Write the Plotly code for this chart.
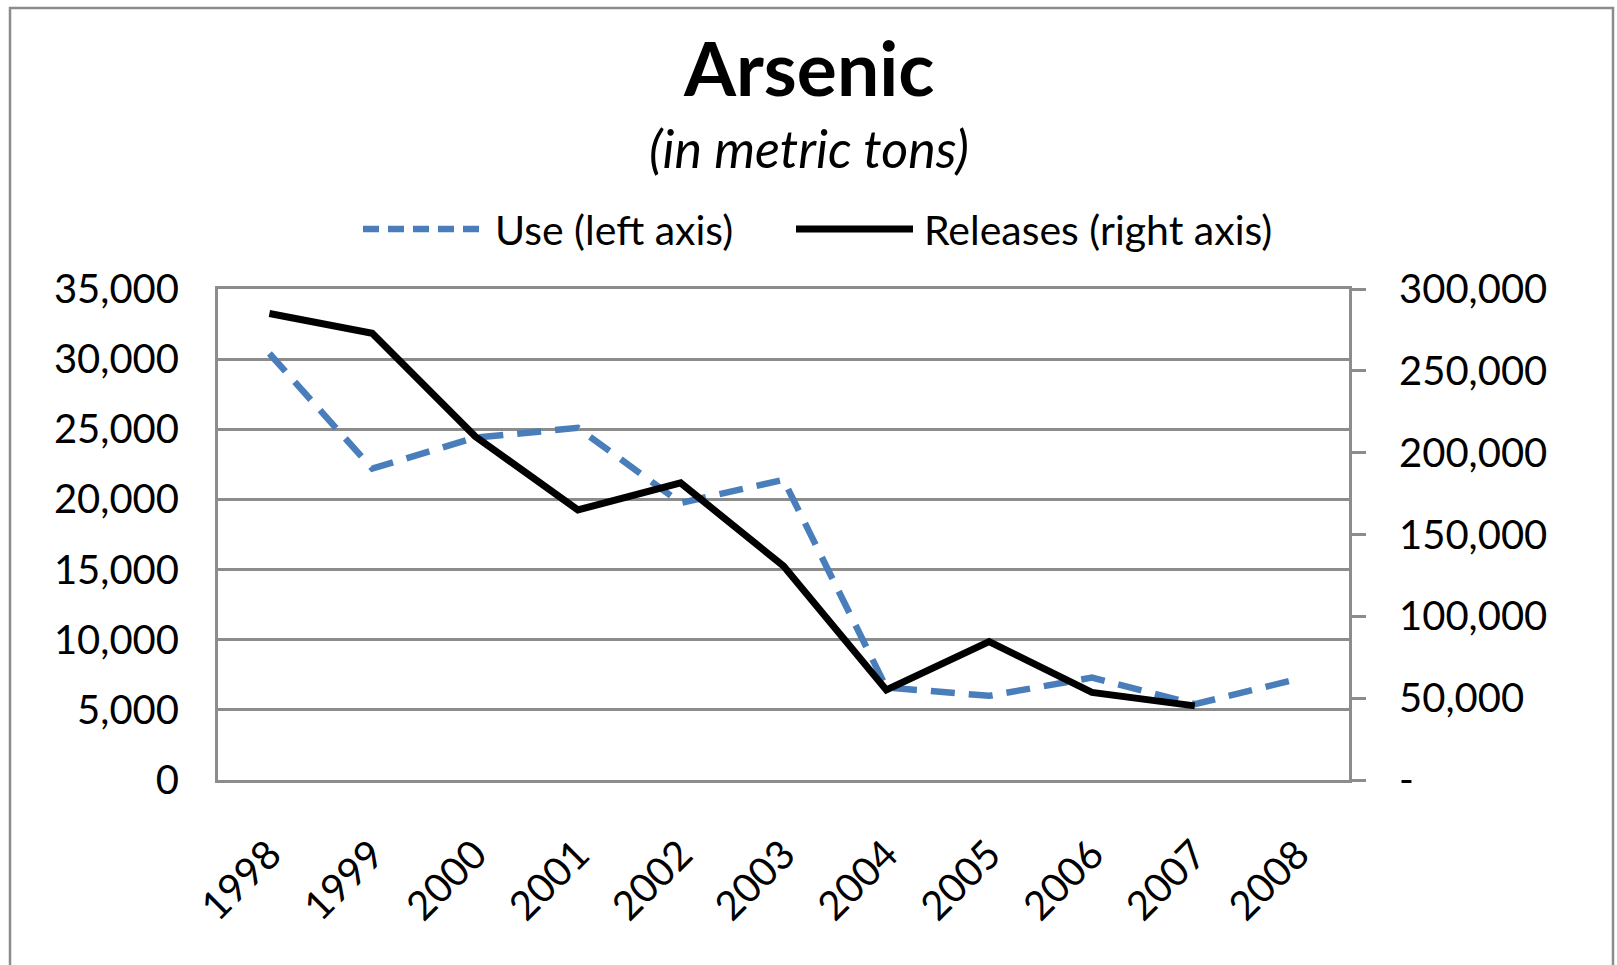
import plotly.graph_objects as go

# ── Data ────────────────────────────────────────────────────────────────
YEARS = ["1998", "1999", "2000", "2001", "2002", "2003",
         "2004", "2005", "2006", "2007", "2008"]
USE_TONS = [30400, 22200, 24400, 25100, 19750, 21400,
            6600, 6000, 7300, 5400, 7200]
RELEASES_TONS = [285000, 273000, 210000, 165000, 181500, 130700,
                 55000, 84500, 53500, 45300, None]

LEFT_TICKS = [0, 5000, 10000, 15000, 20000, 25000, 30000, 35000]
RIGHT_TICKS = [0, 50000, 100000, 150000, 200000, 250000, 300000]
RIGHT_LABELS = ["-", "50,000", "100,000", "150,000", "200,000", "250,000", "300,000"]

# ── Styling ─────────────────────────────────────────────────────────────
COLORS = {
    "use": "#4A7EBB",
    "releases": "#000000",
    "grid": "#8C8C8C",
    "text": "#000000",
}
FONT = "Lato, 'Open Sans', sans-serif"

# plot area in pixels (1617 x 965 canvas)
L, R, T, B = 218, 268, 289, 185
W, H = 1617, 965
PW, PH = W - L - R, H - T - B


def px_x(x):
    return (x - L) / PW


def px_y(y):
    return (H - B - y) / PH


fig = go.Figure()

fig.add_trace(go.Scatter(
    x=YEARS, y=USE_TONS,
    mode="lines",
    name="Use (left axis)",
    line=dict(color=COLORS["use"], width=6.5, dash="24px,14px"),
    yaxis="y",
))
fig.add_trace(go.Scatter(
    x=YEARS, y=RELEASES_TONS,
    mode="lines",
    name="Releases (right axis)",
    line=dict(color=COLORS["releases"], width=7),
    yaxis="y2",
))

axis_font = dict(family=FONT, size=40, color=COLORS["text"])

fig.update_layout(
    width=W, height=H,
    margin=dict(l=L, r=R, t=T, b=B),
    paper_bgcolor="white",
    plot_bgcolor="white",
    showlegend=False,
    font=dict(family=FONT, color=COLORS["text"]),
    xaxis=dict(
        type="category",
        range=[-0.5, len(YEARS) - 0.5],
        showline=True, mirror=True, linecolor=COLORS["grid"], linewidth=3,
        showgrid=False, ticks="",
        tickangle=-45, tickfont=axis_font,
        ticklabelstandoff=32,
    ),
    yaxis=dict(
        range=[0, 35000],
        tickvals=LEFT_TICKS,
        ticktext=[f"{v:,}" for v in LEFT_TICKS],
        showline=True, linecolor=COLORS["grid"], linewidth=3,
        showgrid=True, gridcolor=COLORS["grid"], gridwidth=2.5,
        zeroline=False, ticks="",
        tickfont=axis_font,
        ticklabelstandoff=28,
    ),
    yaxis2=dict(
        range=[0, 300000],
        overlaying="y", side="right",
        tickvals=RIGHT_TICKS,
        ticktext=RIGHT_LABELS,
        showline=True, linecolor=COLORS["grid"], linewidth=3,
        showgrid=False, zeroline=False,
        ticks="outside", ticklen=14, tickwidth=3, tickcolor=COLORS["grid"],
        tickfont=axis_font,
        ticklabelstandoff=25,
    ),
)

# ── Titles ──────────────────────────────────────────────────────────────
fig.add_annotation(
    text="<b>Arsenic</b>", xref="paper", yref="paper",
    x=px_x(808), y=px_y(67), xanchor="center", yanchor="middle",
    showarrow=False, font=dict(family=FONT, size=75, color=COLORS["text"]),
)
fig.add_annotation(
    text="<i>(in metric tons)</i>", xref="paper", yref="paper",
    x=px_x(809), y=px_y(148), xanchor="center", yanchor="middle",
    showarrow=False, font=dict(family=FONT, size=52, color=COLORS["text"]),
)

# ── Legend (drawn by hand for the long Excel-style keys) ────────────────
legend_y = px_y(229)
fig.add_shape(type="line", xref="paper", yref="paper",
              x0=px_x(363), x1=px_x(485), y0=legend_y, y1=legend_y,
              line=dict(color=COLORS["use"], width=6.5, dash="16px,9px"))
fig.add_shape(type="line", xref="paper", yref="paper",
              x0=px_x(796), x1=px_x(913), y0=legend_y, y1=legend_y,
              line=dict(color=COLORS["releases"], width=7))
fig.add_annotation(
    text="Use (left axis)", xref="paper", yref="paper",
    x=px_x(493), y=legend_y, xanchor="left", yanchor="middle",
    showarrow=False, font=dict(family=FONT, size=41, color=COLORS["text"]),
)
fig.add_annotation(
    text="Releases (right axis)", xref="paper", yref="paper",
    x=px_x(922), y=legend_y, xanchor="left", yanchor="middle",
    showarrow=False, font=dict(family=FONT, size=41, color=COLORS["text"]),
)

# chart-area border
fig.add_shape(type="rect", xref="paper", yref="paper",
              x0=px_x(10), x1=px_x(1613), y0=px_y(1000), y1=px_y(8),
              line=dict(color=COLORS["grid"], width=2.5), layer="below")

# drop the browser's default body margin so the canvas sits at 0,0
fig.write_html(
    "out.html",
    config={"displayModeBar": False},
    post_script="document.body.style.margin='0';",
)
